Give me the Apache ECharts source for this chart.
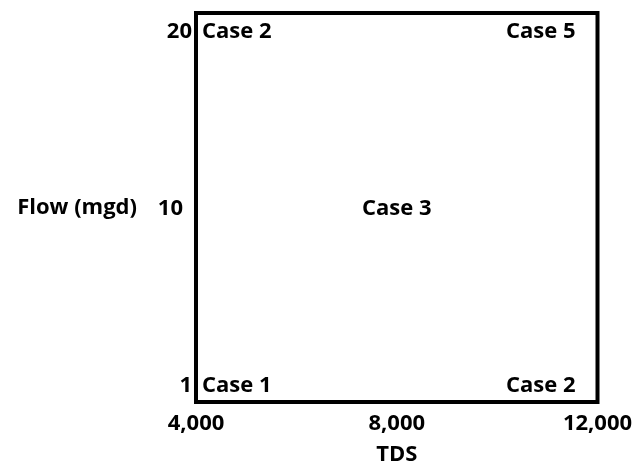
<!DOCTYPE html>
<html><head><meta charset="utf-8">
<script src="https://cdn.jsdelivr.net/npm/echarts@6/dist/echarts.min.js"></script>
<style>html,body{margin:0;padding:0;background:#fff}#c{width:640px;height:468px}</style>
</head><body><div id="c"></div>
<script>
// Tick labels
const tdsTicks = [4000, 8000, 12000];
const flowTicks = ['1', '10', '20'];
// Case labels: name, TDS, flow-level index into flowTicks
const caseNames = ['Case 1', 'Case 2', 'Case 3', 'Case 2', 'Case 5'];
const caseTDS   = [4000, 4000, 8000, 12000, 12000];
const caseFlow  = [0, 2, 1, 0, 2];
const xTitle = 'TDS';
const yTitle = 'Flow (mgd)';

const FONT = '"Open Sans"';
const FS = 22;
const txt = {color: '#000', fontFamily: FONT, fontWeight: 'bold', fontSize: FS};
const chart = echarts.init(document.getElementById('c'), null, {renderer: 'canvas'});
const pts = caseNames.map((n, i) => {
  let pos = 'inside', dist = 0;
  if (caseTDS[i] === tdsTicks[0]) { pos = 'right'; dist = 6; }
  else if (caseTDS[i] === tdsTicks[tdsTicks.length - 1]) { pos = 'left'; dist = 22; }
  return {value: [caseTDS[i], caseFlow[i]], name: n,
    label: Object.assign({show: true, position: pos, distance: dist, formatter: n, opacity: 1}, txt)};
});
chart.setOption({
  animation: false,
  grid: {left: 196, right: 42.5, top: 13, bottom: 66, show: true, borderColor: '#000', borderWidth: 4,
    backgroundColor: 'transparent', containLabel: false, outerBoundsMode: 'none'},
  xAxis: {
    type: 'value', min: 4000, max: 12000, interval: 4000,
    axisLine: {show: false}, axisTick: {show: false}, splitLine: {show: false},
    axisLabel: Object.assign({margin: 11, formatter: v => v.toLocaleString('en-US')}, txt),
    name: xTitle, nameLocation: 'middle', nameGap: 53,
    nameTextStyle: Object.assign({verticalAlign: 'middle'}, txt)
  },
  yAxis: {
    type: 'value', min: -0.09, max: 2.107,
    axisLine: {show: false}, axisTick: {show: false}, splitLine: {show: false},
    axisLabel: Object.assign({margin: 4,
      customValues: [0, 1, 2],
      formatter: v => { const t = flowTicks[Math.round(v)]; return Math.round(v) === 1 ? '{m|' + t + '}' : t; },
      rich: {m: Object.assign({padding: [0, 9, 0, 0]}, txt)}}, txt),
    name: yTitle, nameLocation: 'middle', nameRotate: 0, nameGap: 59,
    nameTextStyle: Object.assign({align: 'right', verticalAlign: 'middle'}, txt)
  },
  series: [{
    type: 'scatter', symbolSize: 0, data: pts,
    itemStyle: {opacity: 1},
    label: txt
  }]
});
</script></body></html>
